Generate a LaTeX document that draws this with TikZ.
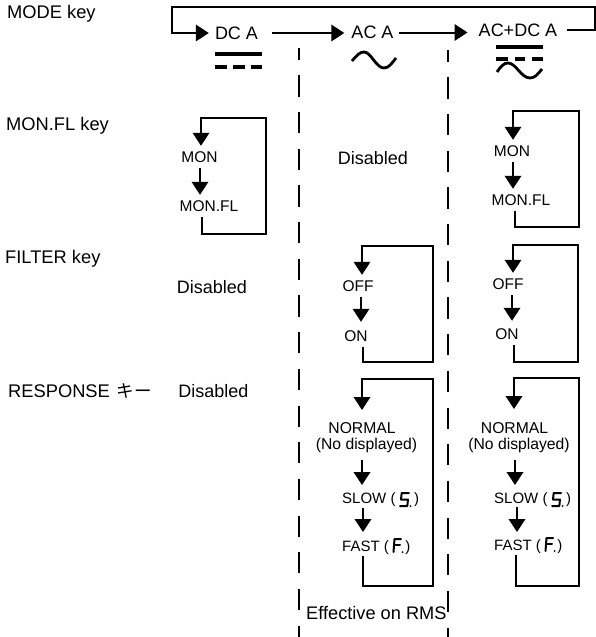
\documentclass[tikz,border=0pt]{standalone}
\usepackage{fontspec}
\setmainfont{Liberation Sans}
\newfontfamily\cjkjp{Noto Sans CJK JP}
\usetikzlibrary{arrows.meta,calc}
\tikzset{
  big/.style={inner sep=0pt,font=\fontsize{18}{18}\selectfont},
  keylabel/.style={inner sep=0pt,anchor=west,font=\fontsize{18.3}{18}\selectfont},
  small/.style={inner sep=0pt,minimum height=22pt,font=\fontsize{15.5}{17}\selectfont},
  tight/.style={inner sep=0pt,font=\fontsize{15.7}{17}\selectfont},
  speed/.style={inner sep=0pt,anchor=west,font=\fontsize{15}{17}\selectfont},
  wire/.style={line width=2pt,line join=miter},
  flow/.style={wire,-{Triangle[width=16.5pt,length=13pt]}},
  divider/.style={line width=2pt,dash pattern=on 21.2pt off 15.47pt,dash phase=9.2pt},
  bar/.style={line width=3.8pt},
  wave/.style={line width=2.8pt},
  seg/.style={line width=2pt,line cap=round,line join=round},
  seg5/.pic={
    \draw[seg] (8,-2) -- (0.7,-2) -- (0,4.5) -- (7,4.5) -- (6.3,11) -- (-1,11);
    \fill (9.5,11) circle (1pt);
  },
  segF/.pic={
    \draw[seg] (7,0) -- (0.5,0) -- (-0.5,13);
    \draw[seg] (0,6) -- (6,6);
    \fill (8.5,13) circle (1pt);
  }
}
\begin{document}
\begin{tikzpicture}[x=1pt,y=-1pt]
\useasboundingbox (0,0) rectangle (596,637);

% row labels
\node[keylabel] (lmode) at (7,14) {MODE key};
\node[keylabel] (lmon) at (6,126) {MON.FL key};
\node[keylabel] (lfilter) at (5,259) {FILTER key};
\node[keylabel] (lresp) at (8,391) {RESPONSE\hspace{2pt} {\cjkjp\fontsize{17.5}{18}\selectfont キー}};

% mode row
\node[big] (dca) at (236.5,33) {DC A};
\node[big] (aca) at (372.5,32.5) {AC A};
\node[big] (acdca) at (518,30) {AC+DC A};
\coordinate (toptl) at (172,7);
\coordinate (toptr) at (595,7);
\draw[flow] ([xshift=10pt]acdca.east) -- (toptr |- acdca.east) -- (toptr) -- (toptl) -- (toptl |- dca.west) -- ([xshift=-6pt]dca.west);
\draw[flow] ([xshift=14pt]dca.east) -- ([xshift=-7pt]aca.west |- dca.west);
\draw[flow] ([xshift=5pt]aca.east) -- ([xshift=-11pt]acdca.west |- aca.east);

% mode symbols
\draw[bar] (215,54) -- (262,54);
\draw[bar] (215,66.7) -- (227,66.7) (233,66.7) -- (245,66.7) (251,66.7) -- (262,66.7);
\draw[wave] (352,61) .. controls (357,55) and (360,52) .. (364,52) .. controls (371,52) and (376,68) .. (384,68) .. controls (389,68) and (392,63) .. (396,58);
\draw[bar] (496,47) -- (543,47);
\draw[bar] (496,59) -- (508,59) (515,59) -- (525,59) (532,59) -- (543,59);
\draw[wave] (497,72) .. controls (501,66) and (504,63) .. (508,63) .. controls (516,63) and (521,78) .. (530,78) .. controls (535,78) and (538,74) .. (542,69);

% dividers
\coordinate (d1a) at (299,48);
\coordinate (d1b) at (299,637);
\coordinate (d2a) at (448,50);
\coordinate (d2b) at (448,637);
\draw[divider] (d1a) -- (d1b);
\draw[divider] (d2a) -- (d2b);

% MON.FL row
\node[big] (dis1) at (373,158) {Disabled};
\node[small] (mona) at (199.5,157) {MON};
\node[small] (monfla) at (209,206) {MON.FL};
\coordinate (ma1) at (201,118);
\coordinate (ma2) at (266,118);
\coordinate (ma3) at (266,234);
\coordinate (ma4) at (202,234);
\draw[flow] (ma4 |- monfla.south) -- (ma4) -- (ma3) -- (ma2) -- (ma1) -- (ma1 |- mona.north);
\draw[flow] (200,0 |- mona.south) -- (200,0 |- monfla.north);

\node[small] (monb) at (512,151) {MON};
\node[small] (monflb) at (521,200) {MON.FL};
\coordinate (mb1) at (513,111);
\coordinate (mb2) at (579,111);
\coordinate (mb3) at (579,227);
\coordinate (mb4) at (515,227);
\draw[flow] (mb4 |- monflb.south) -- (mb4) -- (mb3) -- (mb2) -- (mb1) -- (mb1 |- monb.north);
\draw[flow] (513,0 |- monb.south) -- (513,0 |- monflb.north);

% FILTER row
\node[big] (dis2) at (212,287) {Disabled};
\node[small] (offa) at (358,286) {OFF};
\node[small] (ona) at (356,336) {ON};
\coordinate (fa1) at (362,246);
\coordinate (fa2) at (433,246);
\coordinate (fa3) at (433,362);
\coordinate (fa4) at (363,362);
\draw[flow] (fa4 |- ona.south) -- (fa4) -- (fa3) -- (fa2) -- (fa1) -- (fa1 |- offa.north);
\draw[flow] (361,0 |- offa.south) -- ([yshift=3pt]361,0 |- ona.north);

\node[small] (offb) at (508,284) {OFF};
\node[small] (onb) at (507,334) {ON};
\coordinate (fb1) at (513,245);
\coordinate (fb2) at (578,245);
\coordinate (fb3) at (578,362);
\coordinate (fb4) at (514,362);
\draw[flow] (fb4 |- onb.south) -- (fb4) -- (fb3) -- (fb2) -- (fb1) -- (fb1 |- offb.north);
\draw[flow] (512,0 |- offb.south) -- ([yshift=2pt]512,0 |- onb.north);

% RESPONSE row
\node[big] (dis3) at (213.5,391) {Disabled};
\node[tight] (norma) at (362,428) {NORMAL};
\node[tight] (dispa) at (366.5,445) {(No displayed)};
\node[speed] (slowa) at (342,500) {SLOW (\hspace{18.7pt})};
\node[speed] (fasta) at (342,548) {FAST (\hspace{16.5pt})};
\pic at (401,495) {seg5};
\pic at (394,539) {segF};
\coordinate (ra1) at (362,379);
\coordinate (ra2) at (433,379);
\coordinate (ra3) at (433,586);
\coordinate (ra4) at (363,586);
\coordinate (ra5) at (362,410);
\coordinate (ra6) at (362,460);
\coordinate (ra7) at (362,485);
\coordinate (ra8) at (363,508);
\coordinate (ra9) at (363,532);
\coordinate (ra10) at (363,556);
\draw[flow] (ra10) -- (ra4) -- (ra3) -- (ra2) -- (ra1) -- (ra5);
\draw[flow] (ra6) -- (ra7);
\draw[flow] (ra8) -- (ra9);

\node[tight] (normb) at (514.5,428) {NORMAL};
\node[tight] (dispb) at (519,445) {(No displayed)};
\node[speed] (slowb) at (494,500) {SLOW (\hspace{18.7pt})};
\node[speed] (fastb) at (494,547) {FAST (\hspace{16.5pt})};
\pic at (553,495) {seg5};
\pic at (546,538) {segF};
\coordinate (rb1) at (514,378);
\coordinate (rb2) at (579,378);
\coordinate (rb3) at (579,586);
\coordinate (rb4) at (516,586);
\coordinate (rb5) at (514,409);
\coordinate (rb6) at (515,460);
\coordinate (rb7) at (515,485);
\coordinate (rb8) at (517,507);
\coordinate (rb9) at (517,532);
\coordinate (rb10) at (516,555);
\draw[flow] (rb10) -- (rb4) -- (rb3) -- (rb2) -- (rb1) -- (rb5);
\draw[flow] (rb6) -- (rb7);
\draw[flow] (rb8) -- (rb9);

% footer
\node[keylabel,font=\fontsize{18.2}{18}\selectfont] (rms) at (306,612.5) {Effective on RMS};
\end{tikzpicture}
\end{document}
